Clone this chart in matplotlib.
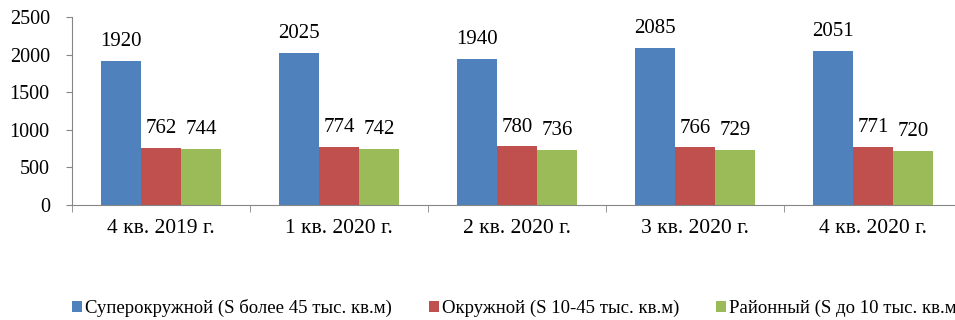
import numpy as np
import matplotlib
matplotlib.use("Agg")
import matplotlib.pyplot as plt

plt.rcParams['font.family'] = ['Liberation Serif', 'DejaVu Serif']

categories = ["4 кв. 2019 г.", "1 кв. 2020 г.", "2 кв. 2020 г.", "3 кв. 2020 г.", "4 кв. 2020 г."]
series_names = ["Суперокружной (S более 45 тыс. кв.м)",
                "Окружной (S 10-45 тыс. кв.м)",
                "Районный (S до 10 тыс. кв.м)"]
super_vals = [1920, 2025, 1940, 2085, 2051]
okrug_vals = [762, 774, 780, 766, 771]
rayon_vals = [744, 742, 736, 729, 720]
colors = ["#4F81BD", "#C0504D", "#9BBB59"]
yticks = [0, 500, 1000, 1500, 2000, 2500]

W, H = 955, 320
fig = plt.figure(figsize=(W / 100, H / 100), dpi=100)
# axes box in pixel units (left, bottom, width, height)
ax = fig.add_axes([72 / W, (H - 205) / H, 890 / W, 188 / H])

x = np.arange(len(categories))
bw = 0.225
for i, (vals, c) in enumerate(zip([super_vals, okrug_vals, rayon_vals], colors)):
    pos = x + (i - 1) * bw
    ax.bar(pos, vals, width=bw, color=c, label=series_names[i])
    for px, v in zip(pos, vals):
        ax.annotate(str(v), (px, v), xytext=(0, 7), textcoords="offset points",
                    ha="center", va="bottom", fontsize=15)

ax.set_xlim(-0.5, len(categories) - 0.5)
ax.set_ylim(0, 2500)
ax.set_yticks(yticks)
ax.set_yticklabels([str(t) for t in yticks], fontsize=14.5)
ax.set_xticks(x)
ax.set_xticklabels(categories, fontsize=15.5)
ax.tick_params(axis="x", length=0, pad=10)
ax.set_xticks(np.arange(len(categories) + 1) - 0.5, minor=True)
ax.tick_params(axis="x", which="minor", length=5, color="#868686")
ax.tick_params(axis="y", length=4, color="#868686", pad=12)
for s in ["top", "right"]:
    ax.spines[s].set_visible(False)
ax.spines["left"].set_color("#868686")
ax.spines["bottom"].set_color("#868686")

leg = fig.legend(loc="center left", bbox_to_anchor=(72 / W, 1 - 308 / H), ncol=3,
                 frameon=False, fontsize=13.5, handlelength=0.55, handleheight=0.55,
                 handletextpad=0.16, columnspacing=1.95, borderaxespad=0,
                 borderpad=0)

fig.savefig("out.png", dpi=100)
